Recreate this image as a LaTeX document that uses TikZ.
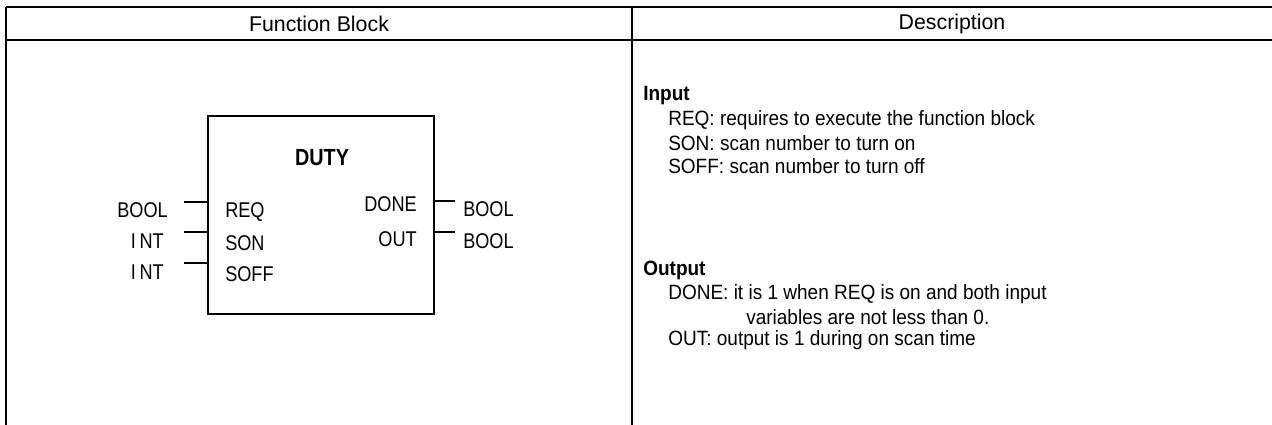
\documentclass[tikz,border=0pt]{standalone}
\usepackage{fontspec}
\setmainfont{Liberation Sans}
\newfontfamily\blockfont[FakeStretch=0.85]{Liberation Sans}
\newfontfamily\descfont[FakeStretch=0.92]{Liberation Sans}
\begin{document}
\begin{tikzpicture}[x=0.75pt,y=-0.75pt,
  frame/.style={line width=1.9pt},
  hdr/.style={font=\fontsize{16}{19}\selectfont, inner sep=0pt},
  desc/.style={font=\descfont\fontsize{15.5}{18}\selectfont, anchor=west, inner sep=0pt},
  desch/.style={font=\descfont\fontsize{15.5}{18}\selectfont\bfseries, anchor=west, inner sep=0pt},
  blk/.style={font=\blockfont\fontsize{16}{18}\selectfont, inner sep=0pt},
  blkb/.style={font=\blockfont\fontsize{17.5}{18}\selectfont\bfseries, inner sep=0pt},
  pin/.style={line width=2.2pt},
  fbox/.style={draw, line width=1.5pt}]
\useasboundingbox (0,0) rectangle (1272,425);
% table
\coordinate (tl) at (6,7);
\coordinate (tr) at (1272,7);
\coordinate (hl) at (6,40);
\coordinate (hr) at (1272,40);
\coordinate (bl) at (6,425);
\coordinate (dt) at (632,7);
\coordinate (db) at (632,425);
\draw[frame] (tl) -- (tr);
\draw[frame] (hl) -- (hr);
\draw[frame] (bl) -- (tl);
\draw[frame] (dt) -- (db);
\node[hdr] (h1) at (319,24) {Function Block};
\node[hdr] (h2) at (952,24) {Description};
% function block
\node[fbox, minimum width=226*0.75pt, minimum height=198*0.75pt, anchor=north west] (fb) at (207,115) {};
\node[blkb] (name) at (322,158) {DUTY};
% left pins
\coordinate (l1) at (207,202);
\coordinate (l2) at (207,232);
\coordinate (l3) at (207,263);
\coordinate (l1e) at (184,202);
\coordinate (l2e) at (184,232);
\coordinate (l3e) at (184,263);
\draw[pin] (l1e) -- (l1);
\draw[pin] (l2e) -- (l2);
\draw[pin] (l3e) -- (l3);
\node[blk, anchor=east] (t1) at (168,210) {BOOL};
\node[blk, anchor=east] (t2) at (164,241) {I\,NT};
\node[blk, anchor=east] (t3) at (164,272) {I\,NT};
\node[blk, anchor=west] (i1) at (225,212) {REQ};
\node[blk, anchor=west] (i2) at (225,243) {SON};
\node[blk, anchor=west] (i3) at (225,274) {SOFF};
% right pins
\coordinate (r1) at (433,201);
\coordinate (r2) at (433,232);
\coordinate (r1e) at (455,201);
\coordinate (r2e) at (455,232);
\draw[pin] (r1) -- (r1e);
\draw[pin] (r2) -- (r2e);
\node[blk, anchor=east] (o1) at (417,204) {DONE};
\node[blk, anchor=east] (o2) at (417,239) {OUT};
\node[blk, anchor=west] (p1) at (463,209) {BOOL};
\node[blk, anchor=west] (p2) at (463,241) {BOOL};
% description
\node[desch] (in) at (643,96) {Input};
\node[desc] (d1) at (668,120) {REQ: requires to execute the function block};
\node[desc] (d2) at (668,143) {SON: scan number to turn on};
\node[desc] (d3) at (668,166) {SOFF: scan number to turn off};
\node[desch] (out) at (643,270) {Output};
\node[desc] (d4) at (668,294) {DONE: it is 1 when REQ is on and both input};
\node[desc] (d5) at (746,317) {variables are not less than 0.};
\node[desc] (d6) at (668,340) {OUT: output is 1 during on scan time};
\end{tikzpicture}
\end{document}
